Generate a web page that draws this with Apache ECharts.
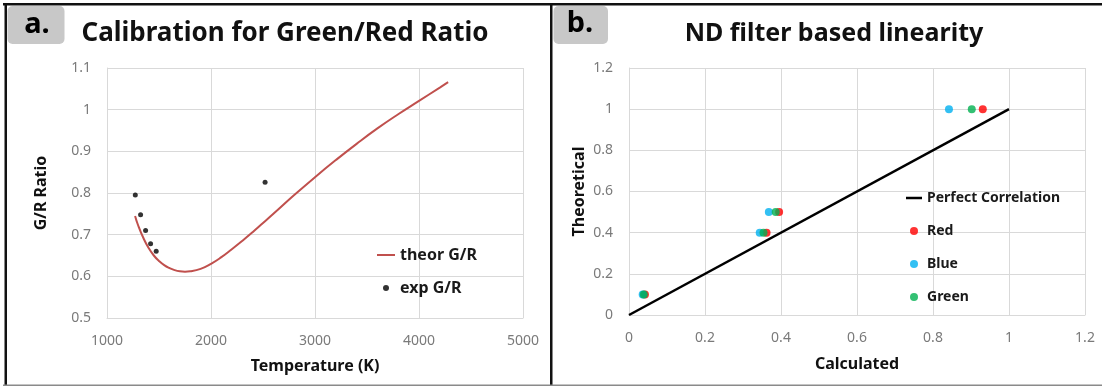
<!DOCTYPE html>
<html>
<head>
<meta charset="utf-8">
<script src="https://cdn.jsdelivr.net/npm/echarts@6/dist/echarts.min.js"></script>
<style>
html,body{margin:0;padding:0;background:#fff;}
#chart{width:1102px;height:387px;}
</style>
</head>
<body>
<div id="chart"></div>
<script>
// ---- Panel a: Calibration for Green/Red Ratio ----
var theorTemp = [1270, 1300, 1350, 1400, 1450, 1500, 1550, 1600, 1650, 1700, 1750, 1800, 1900, 2000, 2100, 2200, 2300, 2400, 2500, 2600, 2800, 3000, 3200, 3400, 3600, 3800, 4000, 4200, 4280];
var theorGR   = [0.745, 0.722, 0.692, 0.668, 0.650, 0.637, 0.627, 0.620, 0.615, 0.612, 0.611, 0.612, 0.618, 0.630, 0.646, 0.665, 0.685, 0.706, 0.728, 0.750, 0.795, 0.838, 0.879, 0.918, 0.955, 0.989, 1.021, 1.053, 1.066];
var expTemp = [1272, 1323, 1371, 1419, 1473, 2520];
var expGR   = [0.795, 0.748, 0.710, 0.678, 0.660, 0.826];
var tempTicks = [1000, 2000, 3000, 4000, 5000];
var ratioTicks = [0.5, 0.6, 0.7, 0.8, 0.9, 1, 1.1];

// ---- Panel b: ND filter based linearity ----
var theoretical = [0.1, 0.4, 0.5, 1];
var redCalc   = [0.042, 0.362, 0.395, 0.931];
var blueCalc  = [0.036, 0.344, 0.368, 0.842];
var greenCalc = [0.039, 0.354, 0.386, 0.902];
var perfectX = [0, 1];
var perfectY = [0, 1];
var ndTicks = [0, 0.2, 0.4, 0.6, 0.8, 1, 1.2];

function zip(a, b) { return a.map(function (v, i) { return [v, b[i]]; }); }

var FONT = 'Noto Sans';
var gridColor = '#d9d9d9';
var tickColor = '#7a7a7a';

function valAxis(idx, min, max, interval, name, gap) {
  return {
    type: 'value', gridIndex: idx, min: min, max: max, interval: interval,
    name: name, nameLocation: 'middle', nameGap: gap,
    nameTextStyle: { fontFamily: FONT, fontWeight: 'bold', fontSize: 16, color: '#111' },
    axisLine: { show: true, lineStyle: { color: gridColor, width: 1 } },
    axisTick: { show: false },
    axisLabel: { color: tickColor, fontFamily: FONT, fontSize: 14, margin: 16,
      formatter: function (v) { return String(+v.toFixed(4)); } },
    splitLine: { show: true, lineStyle: { color: gridColor, width: 1 } }
  };
}

var chart = echarts.init(document.getElementById('chart'), null, { renderer: 'canvas' });
chart.setOption({
  animation: false,
  backgroundColor: '#ffffff',
  textStyle: { fontFamily: FONT },
  title: [
    { text: 'Calibration for Green/Red Ratio', left: 280, top: 16, textAlign: 'center',
      textStyle: { fontFamily: FONT, fontWeight: 'bold', fontSize: 26, color: '#111' } },
    { text: 'ND filter based linearity', left: 829, top: 16, textAlign: 'center',
      textStyle: { fontFamily: FONT, fontWeight: 'bold', fontSize: 25, color: '#111' } }
  ],
  grid: [
    { left: 107, top: 68, width: 416, height: 250 },
    { left: 629, top: 68, width: 456, height: 247 }
  ],
  xAxis: [
    valAxis(0, tempTicks[0], tempTicks[tempTicks.length - 1], 1000, 'Temperature (K)', 40),
    valAxis(1, ndTicks[0], ndTicks[ndTicks.length - 1], 0.2, 'Calculated', 41)
  ],
  yAxis: [
    valAxis(0, ratioTicks[0], ratioTicks[ratioTicks.length - 1], 0.1, 'G/R Ratio', 58),
    valAxis(1, ndTicks[0], ndTicks[ndTicks.length - 1], 0.2, 'Theoretical', 42)
  ],
  legend: [
    { orient: 'vertical', left: 372, top: 242, itemWidth: 18, itemHeight: 6, itemGap: 17,
      data: [{ name: 'theor G/R', icon: 'path://M0,0H18V2H0Z' }, { name: 'exp G/R', icon: 'circle' }],
      textStyle: { fontFamily: FONT, fontWeight: 'bold', fontSize: 16, color: '#1a1a1a' } },
    { orient: 'vertical', left: 901, top: 186, itemWidth: 16, itemHeight: 8, itemGap: 19,
      data: [{ name: 'Perfect Correlation', icon: 'path://M0,0H16V2.5H0Z' },
             { name: 'Red', icon: 'circle' }, { name: 'Blue', icon: 'circle' }, { name: 'Green', icon: 'circle' }],
      textStyle: { fontFamily: FONT, fontWeight: 'bold', fontSize: 14, color: '#1a1a1a' } }
  ],
  series: [
    { name: 'theor G/R', type: 'line', xAxisIndex: 0, yAxisIndex: 0, smooth: true,
      symbol: 'none', data: zip(theorTemp, theorGR),
      lineStyle: { color: '#c0504d', width: 2 }, itemStyle: { color: '#c0504d' } },
    { name: 'exp G/R', type: 'scatter', xAxisIndex: 0, yAxisIndex: 0, symbolSize: 5,
      data: zip(expTemp, expGR), itemStyle: { color: '#000' } },
    { name: 'Perfect Correlation', type: 'line', xAxisIndex: 1, yAxisIndex: 1,
      symbol: 'none', data: zip(perfectX, perfectY),
      lineStyle: { color: '#000', width: 2.5 }, itemStyle: { color: '#000' } },
    { name: 'Red', type: 'scatter', xAxisIndex: 1, yAxisIndex: 1, symbolSize: 8,
      data: zip(redCalc, theoretical), itemStyle: { color: '#ff0000' } },
    { name: 'Blue', type: 'scatter', xAxisIndex: 1, yAxisIndex: 1, symbolSize: 8,
      data: zip(blueCalc, theoretical), itemStyle: { color: '#00b0f0' } },
    { name: 'Green', type: 'scatter', xAxisIndex: 1, yAxisIndex: 1, symbolSize: 8,
      data: zip(greenCalc, theoretical), itemStyle: { color: '#00b050' } }
  ],
  graphic: [
    { type: 'rect', shape: { x: 3, y: 3, width: 1099, height: 2.5 }, style: { fill: '#111' }, z: 100 },
    { type: 'rect', shape: { x: 4.5, y: 3, width: 2.5, height: 383 }, style: { fill: '#111' }, z: 100 },
    { type: 'rect', shape: { x: 550, y: 3, width: 2.5, height: 383 }, style: { fill: '#111' }, z: 100 },
    { type: 'rect', shape: { x: 3, y: 384.5, width: 1099, height: 1.5 }, style: { fill: '#8a8a8a' }, z: 100 },
    { type: 'rect', shape: { x: 7.5, y: 6, width: 57, height: 38, r: 5 }, style: { fill: '#c8c8c8' }, z: 100 },
    { type: 'text', x: 37, y: 25, style: { text: 'a.', fill: '#000', font: 'bold 29px "Noto Sans"', textAlign: 'center', textVerticalAlign: 'middle' }, z: 101 },
    { type: 'rect', shape: { x: 553.5, y: 6, width: 54.5, height: 38, r: 5 }, style: { fill: '#c8c8c8' }, z: 100 },
    { type: 'text', x: 580, y: 24, style: { text: 'b.', fill: '#000', font: 'bold 29px "Noto Sans"', textAlign: 'center', textVerticalAlign: 'middle' }, z: 101 }
  ]
});
</script>
</body>
</html>
